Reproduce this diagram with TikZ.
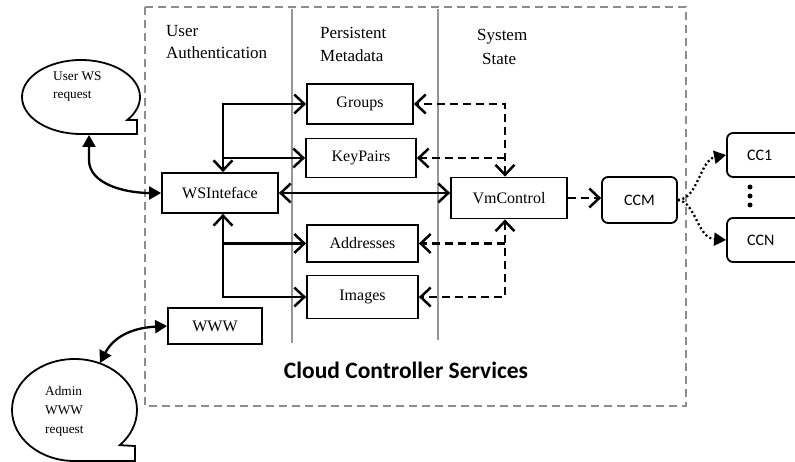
\documentclass[tikz,border=0pt]{standalone}
\usepackage{fontspec}
\setmainfont{Liberation Serif}
\newfontfamily\calfont{Carlito}
\usetikzlibrary{arrows.meta}
\definecolor{frame}{RGB}{140,140,140}
\definecolor{sep}{RGB}{150,150,150}
\begin{document}
\begin{tikzpicture}[x=1pt,y=1pt,
  >={Straight Barb[length=10pt,width=19pt,line width=2.5pt]},
  box/.style={draw, line width=1.8pt, inner sep=0pt, font=\fontsize{16}{19}\selectfont},
  rbox/.style={box, rounded corners=6pt, font=\calfont\fontsize{16}{19}\selectfont},
  edgebox/.style={rbox, text width=40pt, inner xsep=20pt, align=left, minimum height=44pt},
  title/.style={anchor=base west, inner sep=0pt, font=\fontsize{17}{20}\selectfont},
  bubble/.style={line width=1.8pt, line join=miter},
  btext/.style={anchor=base west, inner sep=0pt, align=left},
  conn/.style={line width=2.4pt},
  dconn/.style={line width=2.4pt, dash pattern=on 8pt off 5pt},
  fat/.style={line width=2.3pt, {Triangle[length=12pt,width=13pt]}-{Triangle[length=12pt,width=13pt]}},
  dotc/.style={line width=2.3pt, dash pattern=on 2pt off 2.6pt, -{Triangle[length=12pt,width=13pt]}}
]
\useasboundingbox (0,0) rectangle (795,-462);

% frame and separators
\draw[frame, line width=1.4pt, dash pattern=on 8pt off 5pt] (145,-7) rectangle (686,-406);
\draw[sep, line width=1.4pt] (292,-9) -- (292,-343);
\draw[sep, line width=1.4pt] (438,-9) -- (438,-340);

% column titles
\node[title] (t1) at (166,-37) {User};
\node[title] (t1b) at (166,-59) {Authentication};
\node[title] (t2) at (320,-39) {Persistent};
\node[title] (t2b) at (320,-62) {Metadata};
\node[title] (t3) at (477,-41) {System};
\node[title] (t3b) at (482,-65) {State};

% boxes
\node[box, minimum width=106pt, minimum height=40pt] (groups) at (360,-104) {Groups};
\node[box, minimum width=110pt, minimum height=39pt] (keypairs) at (361,-158) {KeyPairs};
\node[box, minimum width=111pt, minimum height=37pt] (addr) at (362.5,-243.5) {Addresses};
\node[box, minimum width=111pt, minimum height=43pt] (images) at (362.5,-297) {Images};
\node[box, minimum width=116pt, minimum height=40pt] (ws) at (220,-193) {WSInteface};
\node[box, minimum width=94pt, minimum height=36pt] (www) at (215,-326) {WWW};
\node[box, minimum width=116pt, minimum height=41pt] (vm) at (509,-198) {VmControl};
\node[rbox, minimum width=75pt, minimum height=46pt] (ccm) at (639.5,-200) {CCM};
\node[edgebox] (cc1) at (767,-155) {CC1};
\node[edgebox] (ccn) at (767,-240) {CCN};
\fill (750,-187) circle (2.5pt) (750,-196) circle (2.5pt) (750,-205) circle (2.5pt);

\node[font=\calfont\bfseries\fontsize{23.5}{28}\selectfont] (ccs) at (406,-370) {Cloud Controller Services};

% speech bubbles
\draw[bubble] (137,-134) -- (81,-134) arc[start angle=270, end angle=-38.4, x radius=59, y radius=37] -- (137,-120) -- cycle;
\node[btext, font=\fontsize{13.3}{18}\selectfont] (ubt) at (53,-99) {User WS\\request};
\coordinate (ubb) at (89,-135);

\draw[bubble] (135,-461) -- (74.5,-461) arc[start angle=270, end angle=-43.6, x radius=62.5, y radius=51] -- (135,-446) -- cycle;
\node[btext, font=\fontsize{13.3}{19}\selectfont] (abt) at (45,-433) {Admin\\WWW\\request};
\coordinate (abtop) at (100,-363);

% bubble connectors
\draw[fat] (ubb) -- (89,-160) .. controls (89,-184) and (125,-193) .. (ws.west);
\draw[fat] (www.west) .. controls (130,-328) and (113,-338) .. (abtop);

% WSInteface tree
\coordinate (tg) at (223,-104);
\coordinate (ti) at (223,-297);
\draw[conn, <->] (ws.north -| tg) -- (tg) -- (groups.west);
\draw[conn, ->] (tg |- keypairs.west) -- (keypairs.west);
\draw[conn, <->] (ws.south -| ti) -- (ti) -- (images.west);
\draw[conn, ->] (ti |- addr.west) -- (addr.west);
\draw[conn, <->] (ws.east) -- (ws.east -| vm.west);

% VmControl dashed tree
\coordinate (vg) at (505,-104);
\coordinate (vi) at (505,-297);
\draw[dconn, <->] (vm.north -| vg) -- (vg) -- (groups.east);
\draw[dconn, ->] (vg |- keypairs.east) -- (keypairs.east);
\draw[dconn, <->] (vm.south -| vi) -- (vi) -- (images.east);
\draw[dconn, ->] (vi |- addr.east) -- (addr.east);
\draw[dconn, ->] (vm.east) -- (vm.east -| ccm.west);

% CCM to clusters
\draw[dotc] (ccm.east) .. controls (698,-199) and (700,-160) .. (cc1.west);
\draw[dotc] (ccm.east) .. controls (696,-202) and (697,-238) .. (ccn.west);
\end{tikzpicture}
\end{document}
